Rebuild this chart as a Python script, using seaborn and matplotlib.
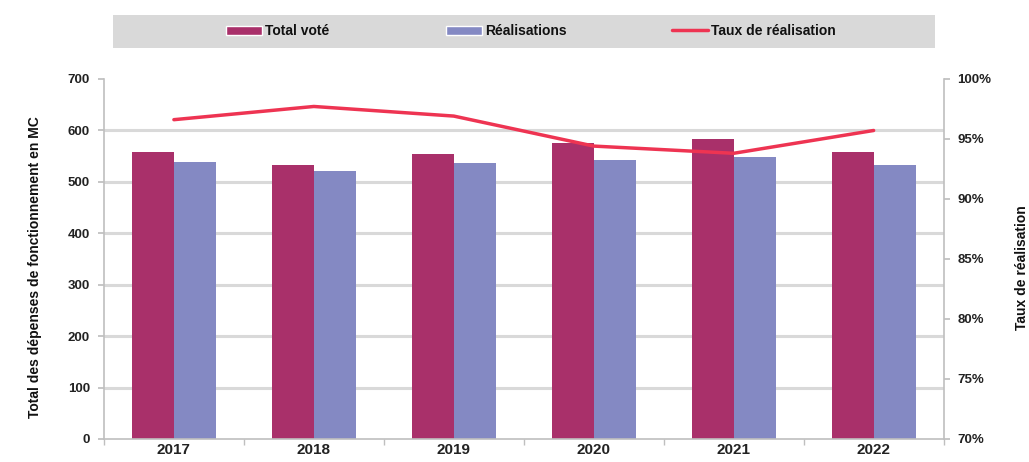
import matplotlib
matplotlib.use("Agg")
import matplotlib.pyplot as plt
import seaborn as sns
import pandas as pd
import numpy as np
from matplotlib.patches import Patch, Rectangle
from matplotlib.lines import Line2D
from matplotlib.ticker import FuncFormatter, MultipleLocator

years = ["2017", "2018", "2019", "2020", "2021", "2022"]
total_vote = [558, 533, 554, 576, 584, 558]
realisations = [539, 521, 537, 543, 549, 533]
taux = [96.6, 97.7, 96.9, 94.4, 93.8, 95.7]

c_total = "#A9306A"
c_real = "#8489C3"
c_line = "#EE3452"

sns.set_theme(style="white")
plt.rcParams['font.family'] = ['Liberation Sans', 'DejaVu Sans']
plt.rcParams['font.weight'] = 'bold'

df = pd.DataFrame({
    "Année": years * 2,
    "Valeur": total_vote + realisations,
    "Série": ["Total voté"] * 6 + ["Réalisations"] * 6,
})

fig = plt.figure(figsize=(10.29, 4.62), dpi=100)
ax = fig.add_axes([0.101, 0.0498, 0.816, 0.7795])

sns.barplot(data=df, x="Année", y="Valeur", hue="Série",
            palette=[c_total, c_real], width=0.6, ax=ax,
            saturation=1, legend=False, edgecolor="none")

ax.set_ylim(0, 700)
ax.set_xlim(-0.5, 5.5)
ax.yaxis.set_major_locator(MultipleLocator(100))
for v in range(100, 700, 100):
    ax.axhline(v, color="#d9d9d9", linewidth=2.2, zorder=0)
ax.set_axisbelow(True)
for s in ["top", "right"]:
    ax.spines[s].set_visible(False)
for s in ["left", "bottom"]:
    ax.spines[s].set_color("#bfbfbf")
    ax.spines[s].set_linewidth(1.2)
ax.set_xlabel("")
ax.set_ylabel("Total des dépenses de fonctionnement en MC", fontsize=10,
              fontweight="bold", color="#111111")
ax.yaxis.set_label_coords(-0.074, 0.478)
ax.tick_params(axis="y", labelsize=9.5, length=4, color="#bfbfbf",
               left=True, pad=6, labelcolor="#222222")
ax.set_xticks(range(6))
ax.set_xticklabels(years, fontsize=11, fontweight="bold", color="#222222")
ax.tick_params(axis="x", length=0, pad=3)
ax.set_xticks(np.arange(-0.5, 6, 1), minor=True)
ax.tick_params(axis="x", which="minor", length=4, color="#bfbfbf", bottom=True)

ax2 = ax.twinx()
sns.lineplot(x=np.arange(6), y=taux, ax=ax2, color=c_line, linewidth=2.5)
ax2.set_ylim(70, 100)
ax2.yaxis.set_major_locator(MultipleLocator(5))
ax2.yaxis.set_major_formatter(FuncFormatter(lambda v, p: f"{int(round(v))}%"))
for s in ["top", "left", "bottom"]:
    ax2.spines[s].set_visible(False)
ax2.spines["right"].set_color("#bfbfbf")
ax2.spines["right"].set_linewidth(1.2)
ax2.tick_params(axis="y", labelsize=9.5, length=4, color="#bfbfbf",
                right=True, pad=6, labelcolor="#222222")
ax2.set_ylabel("Taux de réalisation", fontsize=10, fontweight="bold",
               color="#111111")
ax2.yaxis.set_label_coords(1.085, 0.475)
ax2.grid(False)

# legend band
fig.patches.append(Rectangle((113 / 1029, 1 - 48 / 462), (935 - 113) / 1029, 33 / 462,
                             transform=fig.transFigure, facecolor="#d9d9d9",
                             edgecolor="none", zorder=0))
handles = [Patch(facecolor=c_total, label="Total voté"),
           Patch(facecolor=c_real, label="Réalisations"),
           Line2D([0], [0], color=c_line, linewidth=2.5, label="Taux de réalisation")]
starts = [226, 446, 672]
for h, xs in zip(handles, starts):
    lg = fig.legend(handles=[h], loc="center left",
                    bbox_to_anchor=(xs / 1029, 1 - 31 / 462),
                    frameon=False, fontsize=10, borderaxespad=0, borderpad=0,
                    handlelength=2.6, handleheight=0.6, handletextpad=0.2)
    for t in lg.get_texts():
        t.set_fontweight("bold")
        t.set_color("#111111")

fig.savefig("out.png", dpi=100)
